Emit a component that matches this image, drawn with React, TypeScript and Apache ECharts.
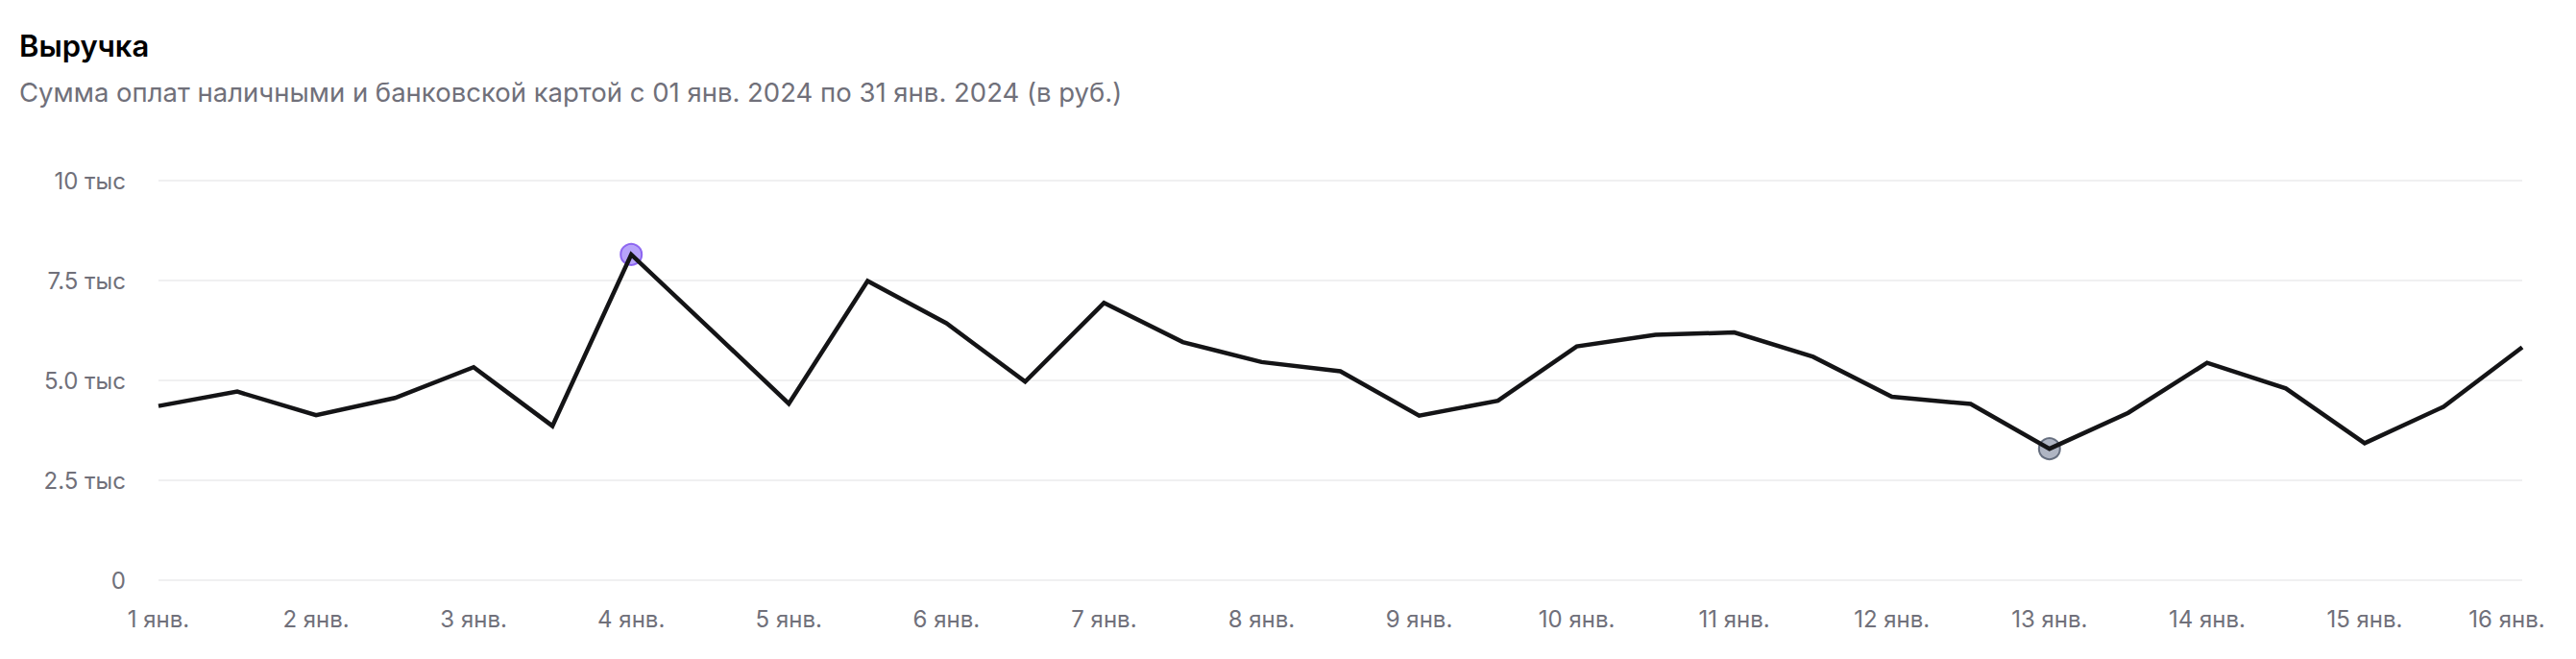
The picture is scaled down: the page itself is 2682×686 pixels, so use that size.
import { useEffect, useRef } from 'react'
import * as echarts from 'echarts'

// half-day points, 1 Jan 00:00 .. 16 Jan 00:00
const categories = [
  '1 янв.', '1 янв. 12:00', '2 янв.', '2 янв. 12:00', '3 янв.', '3 янв. 12:00',
  '4 янв.', '4 янв. 12:00', '5 янв.', '5 янв. 12:00', '6 янв.', '6 янв. 12:00',
  '7 янв.', '7 янв. 12:00', '8 янв.', '8 янв. 12:00', '9 янв.', '9 янв. 12:00',
  '10 янв.', '10 янв. 12:00', '11 янв.', '11 янв. 12:00', '12 янв.', '12 янв. 12:00',
  '13 янв.', '13 янв. 12:00', '14 янв.', '14 янв. 12:00', '15 янв.', '15 янв. 12:00',
  '16 янв.',
]

const revenue = [
  4360, 4720, 4130, 4560, 5330, 3860, 8150, 6290, 4420, 7490, 6430, 4970,
  6940, 5960, 5460, 5230, 4120, 4490, 5850, 6140, 6200, 5590, 4590, 4410,
  3290, 4190, 5440, 4800, 3430, 4340, 5830,
]

const yTicks = [0, 2500, 5000, 7500, 10000]

const FONT = 'Inter, "Noto Sans", sans-serif'
const LABEL_COLOR = '#70707a'

export default function App() {
  const chartRef = useRef<HTMLDivElement>(null)

  useEffect(() => {
    if (!chartRef.current) return
    const chart = echarts.init(chartRef.current, undefined, { renderer: 'svg' })

    const maxVal = Math.max(...revenue)
    const minVal = Math.min(...revenue)
    const maxIdx = revenue.indexOf(maxVal)
    const minIdx = revenue.indexOf(minVal)

    const formatY = (v: number) => {
      if (v === 0) return '0'
      if (v >= 10000) return `${v / 1000} тыс`
      return `${(v / 1000).toFixed(1)} тыс`
    }

    chart.setOption({
      animation: false,
      textStyle: { fontFamily: FONT },
      title: {
        text: 'Выручка',
        subtext: 'Сумма оплат наличными и банковской картой с 01 янв. 2024 по 31 янв. 2024 (в руб.)',
        left: 12,
        top: 24,
        padding: 0,
        itemGap: 19,
        textStyle: { fontFamily: FONT, fontSize: 31, fontWeight: 600, color: '#000' },
        subtextStyle: { fontFamily: FONT, fontSize: 27.5, color: LABEL_COLOR },
      },
      grid: { left: 157, right: 48, top: 180, bottom: 74 },
      xAxis: {
        type: 'category',
        data: categories,
        boundaryGap: false,
        axisLine: { show: false },
        axisTick: { show: false },
        axisLabel: {
          interval: 1,
          margin: 28,
          fontSize: 24,
          color: LABEL_COLOR,
          fontFamily: FONT,
          formatter: (value: string, index: number) =>
            index === categories.length - 1 ? `{last|${value}}` : value,
          rich: {
            last: { fontSize: 24, color: LABEL_COLOR, fontFamily: FONT, padding: [0, 32, 0, 0] },
          },
        },
      },
      yAxis: {
        type: 'value',
        min: yTicks[0],
        max: yTicks[yTicks.length - 1],
        interval: 2500,
        axisLine: { show: false },
        axisTick: { show: false },
        axisLabel: { margin: 34, fontSize: 24, color: LABEL_COLOR, fontFamily: FONT, formatter: formatY },
        splitLine: { lineStyle: { color: '#f0f0f1', width: 2 } },
      },
      series: [
        {
          type: 'scatter',
          z: 1,
          symbolSize: 22,
          data: [
            { value: [maxIdx, maxVal], itemStyle: { color: '#a58cf9', borderColor: '#7a4cee', borderWidth: 2 } },
            { value: [minIdx, minVal], itemStyle: { color: '#9ba3b4', borderColor: '#4a5467', borderWidth: 2 } },
          ],
        },
        {
          type: 'line',
          z: 3,
          data: revenue,
          showSymbol: false,
          symbol: 'none',
          lineStyle: { color: '#141416', width: 4.5, join: 'miter' },
        },
      ],
    })

    return () => {
      chart.dispose()
    }
  }, [])

  return <div ref={chartRef} style={{ width: 2666, height: 670 }} />
}
